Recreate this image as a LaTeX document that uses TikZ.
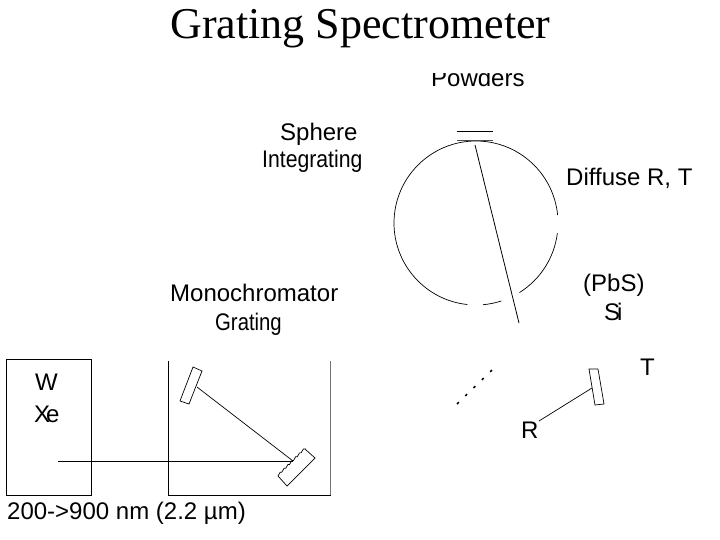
\documentclass[tikz,border=0pt]{standalone}
\usetikzlibrary{calc}
\usepackage{graphicx}
\usepackage{fontspec}
\setmainfont{Liberation Serif}
\newfontfamily\lab{Liberation Sans}
\begin{document}
\begin{tikzpicture}[x=1pt,y=-1pt,
  optic/.style={draw=black,line width=0.7pt},
  beam/.style={draw=black,line width=0.8pt},
  frame/.style={draw=black,line width=1pt},
  lbl/.style={font=\lab\fontsize{24}{26}\selectfont,anchor=base west,inner sep=0pt,text=black}]
\useasboundingbox (0,0) rectangle (720,540);
% Powders, cut off at its top
\node[lbl] (powders) at (431,87) {Powders};
\fill[white] (380,50) rectangle (560,73);
\node[font=\fontsize{44}{46}\selectfont,anchor=base,inner sep=0pt] (title) at (360.5,39) {Grating Spectrometer};
% labels
\node[lbl] (sphere) at (280,141) {Sphere};
\node[lbl] (integ) at (262,168) {\scalebox{0.883}[1]{Integrating}};
\node[lbl] (diffuse) at (566,186) {Diffuse R, T};
\node[lbl] (mono) at (170,301) {Monochromator};
\node[lbl] (grat) at (215,330) {\scalebox{0.846}[1]{Grating}};
\node[lbl] (pbs) at (583,291) {(PbS)};
\node[lbl] (si) at (604,320) {S\kern-3pt i};
\node[lbl] (tlab) at (640,375) {T};
\node[lbl] (rlab) at (521,438) {R};
\node[lbl] (w) at (35,390) {W};
\node[lbl] (xe) at (34,422) {X\kern-4pt e};
\node[lbl] (range) at (7,519) {200->900 nm (2.2 µm)};
% integrating sphere
\coordinate (c) at (476,223);
\draw[optic] ($(c)+(7:82)$) arc[start angle=7,end angle=58,radius=82];
\draw[optic] ($(c)+(72:82)$) arc[start angle=72,end angle=85,radius=82];
\draw[optic] ($(c)+(96:82)$) arc[start angle=96,end angle=354.4,radius=82];
% sample port
\coordinate (p1) at (457,131); \coordinate (p2) at (493,131);
\coordinate (p3) at (457,140); \coordinate (p4) at (493,140);
\draw[optic] (p1) -- (p2);
\draw[optic,draw=black!70] (p3) -- (p4);
% beam through sphere
\coordinate (s1) at (475,145); \coordinate (s2) at (519,323);
\draw[beam] (s1) -- (s2);
% dotted beam
\coordinate (d1) at (457,404); \coordinate (d2) at (492,370);
\draw[line width=1.5pt,dash pattern=on 2.5pt off 9.05pt] (d1) -- (d2);
% source box
\coordinate (b1) at (6.5,359.5); \coordinate (b2) at (91,495);
\draw[frame] (b1) rectangle (b2);
% monochromator housing
\coordinate (m1) at (168.5,361); \coordinate (m2) at (168.5,495);
\coordinate (m3) at (330.5,495); \coordinate (m4) at (330.5,361);
\draw[frame] (m1) -- (m2) -- (m3);
\draw[frame,draw=black!55] (m3) -- (m4);
% mirror
\coordinate (r1) at (193,367); \coordinate (r2) at (202,371);
\coordinate (r3) at (189,404); \coordinate (r4) at (180,401);
\draw[optic] (r1) -- (r2) -- (r3) -- (r4) -- cycle;
% grating
\coordinate (g1) at (305,449); \coordinate (g2) at (315,458);
\coordinate (g3) at (287,486); \coordinate (g4) at (278,476);
\draw[optic] (g1) -- (g2) -- (g3) -- (g4)
  -- ++(2.2,-3.8) -- ++(1.66,-0.06) -- ++(2.2,-3.8) -- ++(1.66,-0.06)
  -- ++(2.2,-3.8) -- ++(1.66,-0.06) -- ++(2.2,-3.8) -- ++(1.66,-0.06)
  -- ++(2.2,-3.8) -- ++(1.66,-0.06) -- ++(2.2,-3.8) -- ++(1.66,-0.06)
  -- ++(2.2,-3.8) -- ++(1.66,-0.06) -- cycle;
% light path
\coordinate (l0) at (58,461); \coordinate (l1) at (293,461); \coordinate (l2) at (197,387);
\draw[beam] (l0) -- (l1);
\draw[optic] (l1) -- (l2);
% detector
\coordinate (t1) at (589,369); \coordinate (t2) at (598,369);
\coordinate (t3) at (604,404); \coordinate (t4) at (595,405);
\draw[optic] (t1) -- (t2) -- (t3) -- (t4) -- cycle;
\coordinate (q1) at (539,421); \coordinate (q2) at (592,388);
\draw[optic] (q1) -- (q2);
\end{tikzpicture}
\end{document}
